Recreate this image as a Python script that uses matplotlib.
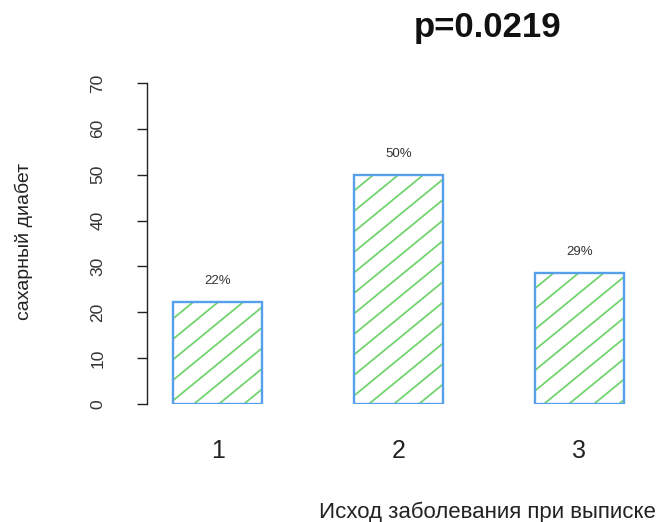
import numpy as np
import matplotlib
matplotlib.use("Agg")
import matplotlib.pyplot as plt
from matplotlib.transforms import IdentityTransform

# Outcome at discharge vs. share of patients with diabetes
categories = ["1", "2", "3"]
values = [22.2, 50.0, 28.6]
value_labels = ["22%", "50%", "29%"]
y_ticks = [0, 10, 20, 30, 40, 50, 60, 70]
title = "p=0.0219"
xlabel = "Исход заболевания при выписке"
ylabel = "сахарный диабет"

plt.rcParams["font.family"] = ["Liberation Sans", "DejaVu Sans"]

W, H = 662, 522
fig = plt.figure(figsize=(W / 100, H / 100), dpi=100)
ax = fig.add_axes([147 / W, (H - 404) / H, 503 / W, 321 / H])

x = np.arange(1, len(categories) + 1)
bar_w = 89 / 181
edge = "#559FEB"
hatch_col = "#72D46E"

bars = ax.bar(x, values, width=bar_w, color="none", edgecolor=edge,
              linewidth=1.7, zorder=3)
ax.set_xlim(0.61, 3.39)
ax.set_ylim(0, 70)

# Diagonal hatching, drawn as clipped lines in pixel space
fig.canvas.draw()
slope = 0.82
step = 20.5
for b in bars:
    (x0, y0) = ax.transData.transform((b.get_x(), 0))
    (x1, y1) = ax.transData.transform((b.get_x() + b.get_width(), b.get_height()))
    cmin = y0 - slope * x1
    cmax = y1 - slope * x0
    c = np.floor(cmin / step) * step
    while c <= cmax:
        xs = np.array([x0 - 5, x1 + 5])
        ys = slope * xs + c
        ln, = ax.plot(xs, ys, color=hatch_col, lw=1.3, transform=IdentityTransform(),
                      zorder=2, solid_capstyle="butt")
        ln.set_clip_path(b)
        c += step

for xi, v, lab in zip(x, values, value_labels):
    ax.annotate(lab, (xi, v), xytext=(0, 21), textcoords="offset pixels",
                ha="center", va="center", fontsize=9.5, color="#333333")

for s in ["top", "right", "bottom"]:
    ax.spines[s].set_visible(False)
ax.spines["left"].set_bounds(0, 70)
ax.spines["left"].set_linewidth(1.0)
ax.spines["left"].set_color("#222222")
ax.set_yticks(y_ticks)
ax.set_yticklabels([str(t) for t in y_ticks], rotation=90, va="center",
                   fontsize=12.5, color="#333333")
ax.tick_params(axis="y", length=7, width=1.0, color="#222222", pad=23)
ax.set_xticks(x)
ax.set_xticklabels(categories, fontsize=18, color="#222222")
ax.tick_params(axis="x", length=0, pad=25)

fig.text(488 / W, 1 - 28 / H, title, ha="center", va="center",
         fontsize=25, fontweight="bold", color="#111111")
fig.text(487 / W, 1 - 512 / H, xlabel, ha="center", va="center",
         fontsize=16, color="#222222")
fig.text(24 / W, 1 - 241 / H, ylabel, ha="center", va="center",
         rotation=90, fontsize=14, color="#222222")

fig.savefig("out.png", dpi=100)
